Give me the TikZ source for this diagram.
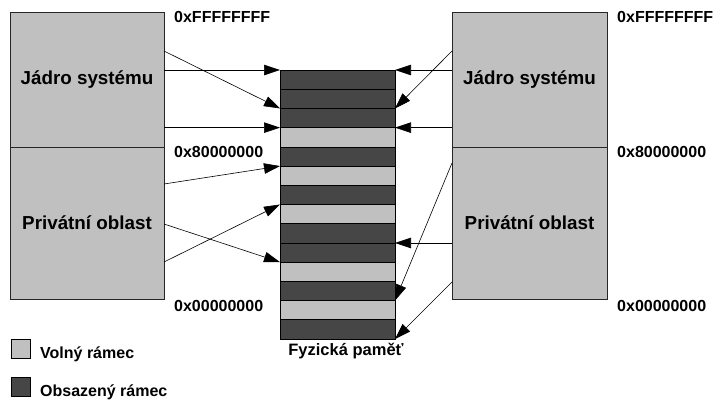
\documentclass[tikz,border=0pt]{standalone}
\usepackage{fontspec}
\setmainfont{Liberation Sans}
\usepackage{tikz}
\usetikzlibrary{arrows.meta}
\usetikzlibrary{positioning}
\definecolor{lgray}{HTML}{C0C0C0}
\definecolor{dgray}{HTML}{464646}
\tikzset{area/.style = {draw = black!85, fill = lgray, line width = 0.7pt, inner sep = 0, outer sep = 0,
    anchor = north west, font = \bfseries\fontsize{18.8}{22}\selectfont}}
\tikzset{freefrm/.style = {draw, fill = lgray, line width = 0.7pt, inner sep = 0, outer sep = 0,
    minimum width = 115pt, minimum height = 19.214pt, anchor = north west}}
\tikzset{usedfrm/.style = {freefrm, fill = dgray}}
\tikzset{addr/.style = {inner sep = 0, anchor = base west, font = \bfseries\fontsize{16}{18}\selectfont}}
\tikzset{arr/.style = {-{Triangle[length = 16pt, width = 10.5pt]}, line width = 0.6pt}}

\begin{document}
\begin{tikzpicture}[x = 1pt, y = -1pt]
    \useasboundingbox (0, 0) rectangle (725, 399);

    \node [area, minimum width = 154pt, minimum height = 135pt] (kernL) at (10, 12) {J\'adro syst\'emu};
    \node [area, minimum width = 154pt, minimum height = 152pt] (privL) at (10, 147) {Priv\'atn\'i oblast};

    \node [area, minimum width = 155pt, minimum height = 135pt] (kernR) at (452, 12) {J\'adro syst\'emu};
    \node [area, minimum width = 155pt, minimum height = 152pt] (privR) at (452, 147) {Priv\'atn\'i oblast};

    \node [usedfrm] (f1) at (280, 70) {};
    \node [usedfrm] (f2) at (280, 89.21) {};
    \node [usedfrm] (f3) at (280, 108.43) {};
    \node [freefrm] (f4) at (280, 127.64) {};
    \node [usedfrm] (f5) at (280, 146.86) {};
    \node [freefrm] (f6) at (280, 166.07) {};
    \node [usedfrm] (f7) at (280, 185.29) {};
    \node [freefrm] (f8) at (280, 204.5) {};
    \node [usedfrm] (f9) at (280, 223.71) {};
    \node [usedfrm] (f10) at (280, 242.93) {};
    \node [freefrm] (f11) at (280, 262.14) {};
    \node [usedfrm] (f12) at (280, 281.36) {};
    \node [freefrm] (f13) at (280, 300.57) {};
    \node [usedfrm] (f14) at (280, 319.79) {};

    \node [addr] (topL) at (174, 22.7) {0xFFFFFFFF};
    \node [addr] (midL) at (174, 157.3) {0x80000000};
    \node [addr] (botL) at (174, 311.7) {0x00000000};
    \node [addr] (topR) at (617, 22.7) {0xFFFFFFFF};
    \node [addr] (midR) at (617, 157.3) {0x80000000};
    \node [addr] (botR) at (617, 311.7) {0x00000000};

    \draw [arr] (kernL.east |- f1.north west) -- (f1.north west);
    \draw [arr] ([yshift = -39pt] kernL.north east) -- (f3.north west);
    \draw [arr] (kernL.east |- f4.north west) -- (f4.north west);
    \draw [arr] ([yshift = -37pt] privL.north east) -- (f6.north west);
    \draw [arr] ([yshift = -77pt] privL.north east) -- (f11.north west);
    \draw [arr] ([yshift = -115pt] privL.north east) -- (f8.north west);

    \draw [arr] (kernR.west |- f1.north east) -- (f1.north east);
    \draw [arr] ([yshift = -39pt] kernR.north west) -- (f3.north east);
    \draw [arr] (kernR.west |- f4.north east) -- (f4.north east);
    \draw [arr] ([yshift = -16pt] privR.north west) -- (f13.north east);
    \draw [arr] (privR.west |- f10.north east) -- (f10.north east);
    \draw [arr] ([yshift = -135pt] privR.north west) -- (f14.south east);

    \node [addr, anchor = base, font = \bfseries\fontsize{16.5}{18}\selectfont] (mem) at (346, 355.7) {Fyzick\'a pam\v{e}\v{t}};

    \node [freefrm, minimum width = 19pt, minimum height = 19pt] (keyfree) at (11, 339) {};
    \node [usedfrm, minimum width = 19pt, minimum height = 19pt] (keyused) at (11, 377) {};
    \node [addr, anchor = base west] (txtfree) at (40, 358) {Voln\'y r\'amec};
    \node [addr, anchor = base west] (txtused) at (40, 396) {Obsazen\'y r\'amec};
\end{tikzpicture}
\end{document}
